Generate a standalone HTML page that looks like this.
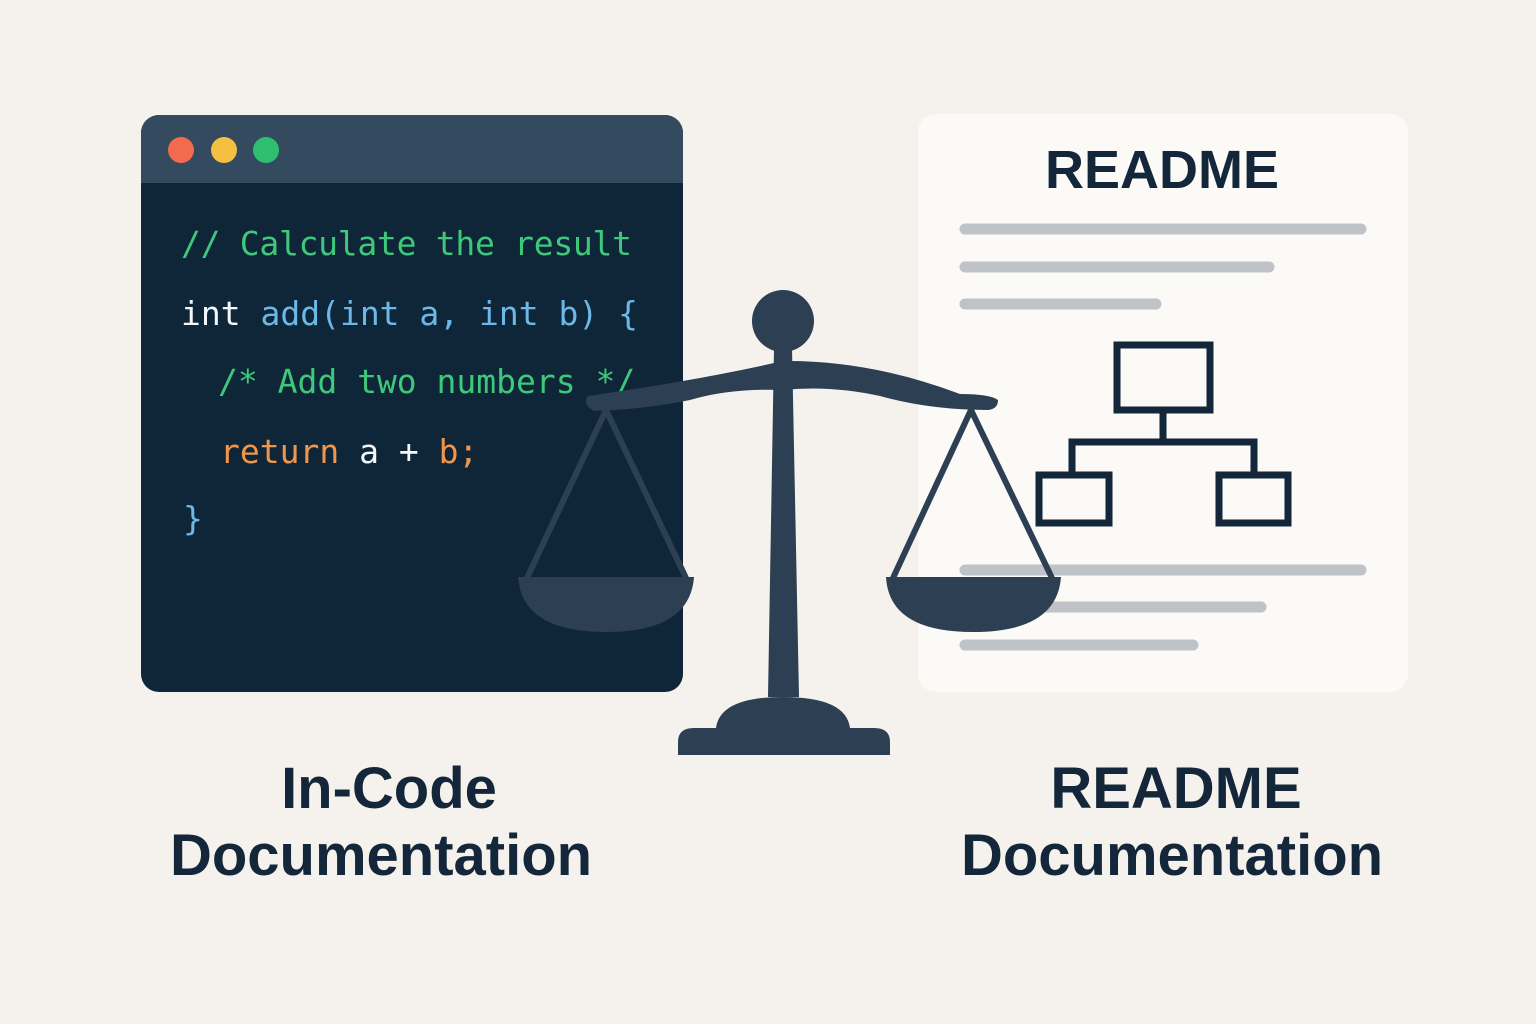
<!DOCTYPE html>
<html><head><meta charset="utf-8"><style>
html,body{margin:0;padding:0;background:#f5f2ee}
svg{display:block}
</style></head><body>
<svg width="1536" height="1024" viewBox="0 0 1536 1024" xmlns="http://www.w3.org/2000/svg">
<rect width="1536" height="1024" fill="#f5f2ee"/>
<!-- code window -->
<rect x="141" y="115" width="542" height="577" rx="18" fill="#0f2639"/>
<path d="M159 115 H665 A18 18 0 0 1 683 133 V183 H141 V133 A18 18 0 0 1 159 115Z" fill="#344a5e"/>
<circle cx="181" cy="150" r="13" fill="#f26b4f"/>
<circle cx="224" cy="150" r="13" fill="#f5bf42"/>
<circle cx="266" cy="150" r="13" fill="#2fbf71"/>
<g font-family="'DejaVu Sans Mono','Liberation Mono',monospace" font-size="33">
<text x="181" y="255" fill="#3ec97a" textLength="451">// Calculate the result</text>
<text x="181" y="325"><tspan fill="#f4f6f8">int</tspan><tspan fill="#6cb8e6"> add(int a, int b) {</tspan></text>
<text x="218" y="393" fill="#3ec97a">/* Add two numbers */</text>
<text x="220" y="463"><tspan fill="#f0954a">return</tspan><tspan fill="#f4f6f8"> a + </tspan><tspan fill="#f0954a">b;</tspan></text>
<text x="183" y="530" fill="#6cb8e6">}</text>
</g>
<!-- readme card -->
<rect x="918" y="114" width="490" height="578" rx="18" fill="#fbfaf7"/>
<text x="1162" y="188" text-anchor="middle" font-family="'Liberation Sans',sans-serif" font-weight="bold" font-size="54" fill="#13263a">README</text>
<g stroke="#bfc3c7" stroke-width="11" stroke-linecap="round">
<line x1="965" y1="229" x2="1361" y2="229"/>
<line x1="965" y1="267" x2="1269" y2="267"/>
<line x1="965" y1="304" x2="1156" y2="304"/>
<line x1="965" y1="570" x2="1361" y2="570"/>
<line x1="965" y1="607" x2="1261" y2="607"/>
<line x1="965" y1="645" x2="1193" y2="645"/>
</g>
<g stroke="#13263a" stroke-width="7" fill="none">
<rect x="1117" y="345" width="93" height="65"/>
<line x1="1163" y1="410" x2="1163" y2="442"/>
<polyline points="1072,474 1072,442 1254,442 1254,474"/>
<rect x="1039" y="475" width="70" height="48"/>
<rect x="1219" y="475" width="69" height="48"/>
</g>
<!-- scale -->
<g fill="#2d3f52" stroke="none">
<circle cx="783" cy="321" r="31"/>
<polygon points="774,348 792,348 799,697 768,697"/>
<path d="M716 728 Q720 697 783 697 Q846 697 850 728Z"/>
<path d="M678 755 V742 Q678 728 694 728 H874 Q890 728 890 742 V755Z"/>
<path d="M588 396 Q700 380 783 361 Q870 360 960 394 Q990 394 998 400 Q998 409 988 410 Q930 410 880 396 Q830 385 783 390 Q730 388 690 400 Q640 410 594 411 Q582 404 588 396Z"/>
<path d="M518 577 H694 Q690 632 606 632 Q522 632 518 577Z"/>
<path d="M886 577 H1061 Q1057 632 973 632 Q889 632 886 577Z"/>
</g>
<g stroke="#2d3f52" stroke-width="6" fill="none" stroke-linejoin="round">
<polyline points="527,578 606,410 686,578"/>
<polyline points="893,578 971,410 1052,578"/>
</g>
<!-- labels -->
<g font-family="'Liberation Sans',sans-serif" font-weight="bold" font-size="58" fill="#13263a" text-anchor="middle">
<text x="389" y="808">In-Code</text>
<text x="381" y="875">Documentation</text>
<text x="1176" y="808">README</text>
<text x="1172" y="875">Documentation</text>
</g>
</svg>
</body></html>
